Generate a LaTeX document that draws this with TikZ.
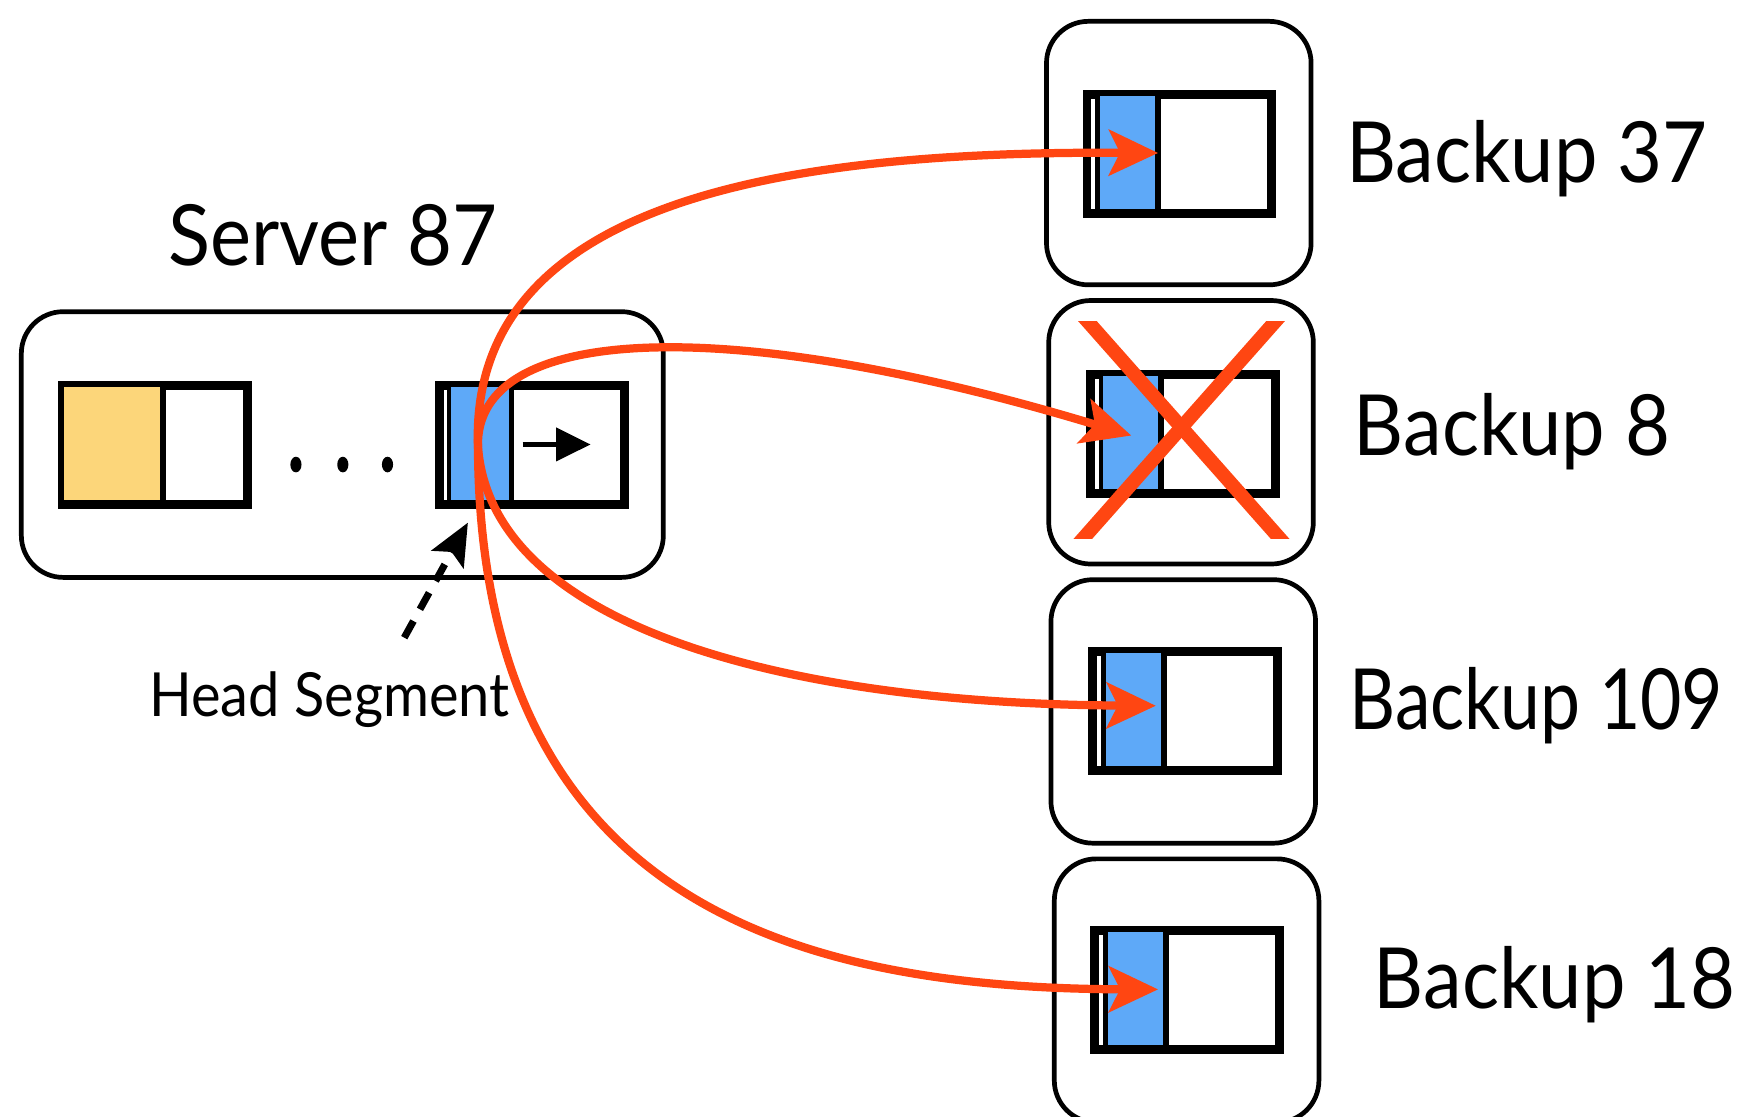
\documentclass[tikz,border=0pt]{standalone}
\usepackage{fontspec}
\usepackage{graphicx}
\setmainfont{Lato}[FakeStretch=0.92]
\usetikzlibrary{arrows.meta}
\definecolor{segyellow}{HTML}{FCD67A}
\definecolor{segblue}{HTML}{5EA9F8}
\definecolor{redarrow}{HTML}{FF4612}
\newcommand\drawsegment[4]{% name, x, y, fill colour of the head part
  \node[seg] (#1) at (#2,#3) {};
  \fill[#4] (#2+11,#3) rectangle (#2+65,#3+104);
  \draw[line width=2.4pt] (#2+11,#3) -- (#2+11,#3+104);
  \draw[segline] (#2+65,#3) -- (#2+65,#3+104);
  \draw[segline] (#1.north west) rectangle (#1.south east);
}
\begin{document}
\begin{tikzpicture}[x=0.02cm,y=-0.02cm,
  segline/.style={line width=3pt},
  machine/.style={draw,line width=2.4pt,rounded corners=0.75cm,anchor=north west,inner sep=0},
  seg/.style={draw,segline,fill=white,inner sep=0,minimum width=3.26cm,minimum height=2.08cm,anchor=north west},
  rep/.style={draw=redarrow,line width=4.2pt,-{Stealth[length=0.88cm,width=0.82cm,inset=0.2cm]}},
  lbl/.style={font=\fontsize{43}{50}\selectfont,anchor=base west,inner sep=0}]

\useasboundingbox (0,0) rectangle (1568,1000);

% server
\node[machine,minimum width=11.5cm,minimum height=4.76cm] (server) at (17,277) {};
\node[anchor=base,inner sep=0,font=\fontsize{43}{50}\selectfont] (servername) at (298,238) {Server 87};

% old segment
\node[seg] (oldseg) at (55,344) {};
\fill[segyellow] (55,344) rectangle (146,448);
\draw[segline] (146,344) -- (146,448);
\draw[segline] (oldseg.north west) rectangle (oldseg.south east);

% dots
\fill (265,416) ellipse (5 and 7);
\fill (307,416) ellipse (5 and 7);
\fill (347,416) ellipse (5 and 7);

% head segment
\node[seg] (head) at (392,344) {};
\fill[segblue] (402,344) rectangle (458,448);
\draw[line width=2.4pt] (402,344) -- (402,448);
\draw[segline] (458,344) -- (458,448);
\draw[segline] (head.north west) rectangle (head.south east);
\coordinate (grow0) at (468,398);
\coordinate (grow1) at (529,398);
\draw[line width=3pt,-{Triangle[length=0.62cm,width=0.58cm]}] (grow0) -- (grow1);

% head segment label
\node[anchor=base,inner sep=0,font=\fontsize{31}{36}\selectfont] (headlabel) at (295,642) {Head Segment};
\coordinate (dashfrom) at (362,571);
\coordinate (dashto) at (419,468);
\draw[line width=3.6pt,dash pattern=on 0.34cm off 0.24cm,-{Stealth[length=0.75cm,width=0.65cm,inset=0.15cm]}] (dashfrom) -- (dashto);

% backups
\node[machine,minimum width=4.74cm,minimum height=4.72cm] (b37) at (935,17) {};
\node[machine,minimum width=4.74cm,minimum height=4.72cm] (b8) at (937,267) {};
\node[machine,minimum width=4.74cm,minimum height=4.72cm] (b109) at (939,517) {};
\node[machine,minimum width=4.74cm,minimum height=4.72cm] (b18) at (942,767) {};

\drawsegment{s37}{972}{83}{segblue}
\drawsegment{s8}{975}{334}{segblue}
\drawsegment{s109}{977}{582}{segblue}
\drawsegment{s18}{979}{832}{segblue}

\node[lbl] (l37) at (1205,163) {Backup 37};
\node[lbl] (l8) at (1212,408) {Backup 8};
\node[lbl] (l109) at (1208,653) {\scalebox{0.92}[1]{Backup 109}};
\node[lbl] (l18) at (1230,903) {Backup 18};

% replication arrows
\coordinate (src) at (428,400);
\coordinate (t37) at (1037,137);
\coordinate (t8) at (1013,390);
\coordinate (t109) at (1035,632);
\coordinate (t18) at (1037,886);
\draw[rep] (src) .. controls (420,180) and (700,135) .. (t37);
\draw[rep] (src) .. controls (425,290) and (650,280) .. (t8);
\draw[rep] (src) .. controls (440,560) and (700,630) .. (t109);
\draw[rep] (src) .. controls (430,800) and (700,885) .. (t18);

% crashed backup
\begin{scope}
\clip (900,288) rectangle (1200,482);
\draw[redarrow,line width=0.25cm] (960,272) -- (1160,498);
\draw[redarrow,line width=0.25cm] (1156,272) -- (956,498);
\end{scope}
\end{tikzpicture}
\end{document}
